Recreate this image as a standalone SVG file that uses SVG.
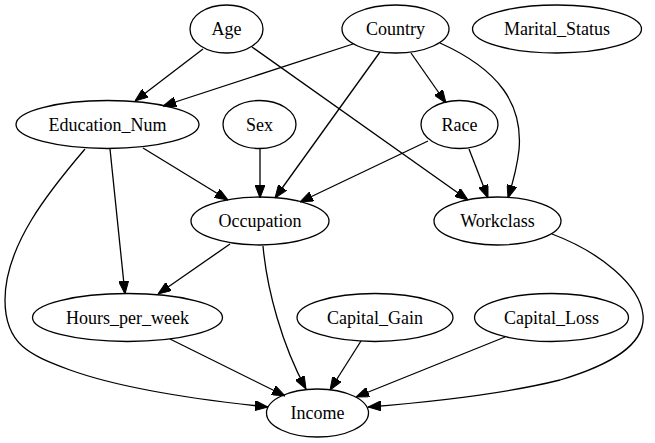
<svg xmlns="http://www.w3.org/2000/svg" width="655" height="443" viewBox="0 0 655 443">
<style>
ellipse{fill:none;stroke:#000;stroke-width:1.3}
#edges path{fill:none;stroke:#000;stroke-width:1.3;marker-end:url(#ah)}
</style>
<defs>
<marker id="ah" viewBox="0 0 13 10" refX="13" refY="5" markerWidth="13" markerHeight="10" markerUnits="userSpaceOnUse" orient="auto">
<path d="M0,0 L13,5 L0,10 z" fill="#000" stroke="#000" stroke-width="1"/>
</marker>
</defs>
<rect width="655" height="443" fill="#fff"/>
<g id="edges">
<path d="M203,49 L135,101"/>
<path d="M353,44 L163,106"/>
<path d="M252,47 L468,200"/>
<path d="M380,52 L275,198"/>
<path d="M411,53 L446,103"/>
<path d="M440,43 C500,70 523,105 519,150 C517,168 513,182 508,198"/>
<path d="M143,148 L228,200"/>
<path d="M110,149 L125,294"/>
<path d="M85,149 C50,190 5,245 5,300 C5,345 30,355 70,370 C120,388 200,400 268,407"/>
<path d="M260,148 L260,198"/>
<path d="M428,141 L300,202"/>
<path d="M469,149 L488,198"/>
<path d="M230,244 L158,294"/>
<path d="M263,246 C267,290 282,345 306,389"/>
<path d="M170,339 L285,396"/>
<path d="M361,341 L330,390"/>
<path d="M505,337 L356,397"/>
<path d="M552,234 C600,252 640,285 643,315 C646,345 610,365 560,380 C500,395 430,402 368,407"/>
</g>
<g id="Age"><ellipse cx="226.5" cy="29" rx="36.5" ry="24"/><text x="226.5" y="35" font-family="Liberation Serif" font-size="18" text-anchor="middle">Age</text></g>
<g id="Country"><ellipse cx="395.5" cy="29" rx="53.5" ry="24"/><text x="395.5" y="35" font-family="Liberation Serif" font-size="18" text-anchor="middle">Country</text></g>
<g id="Marital_Status"><ellipse cx="557" cy="29" rx="84.5" ry="24"/><text x="557" y="35" font-family="Liberation Serif" font-size="18" text-anchor="middle">Marital_Status</text></g>
<g id="Education_Num"><ellipse cx="107.5" cy="124.5" rx="91.5" ry="24"/><text x="107.5" y="130.5" font-family="Liberation Serif" font-size="18" text-anchor="middle">Education_Num</text></g>
<g id="Sex"><ellipse cx="259.5" cy="124.5" rx="36.5" ry="24"/><text x="259.5" y="130.5" font-family="Liberation Serif" font-size="18" text-anchor="middle">Sex</text></g>
<g id="Race"><ellipse cx="459.5" cy="124.5" rx="38.5" ry="24"/><text x="459.5" y="130.5" font-family="Liberation Serif" font-size="18" text-anchor="middle">Race</text></g>
<g id="Occupation"><ellipse cx="260" cy="221" rx="69" ry="24"/><text x="260" y="227" font-family="Liberation Serif" font-size="18" text-anchor="middle">Occupation</text></g>
<g id="Workclass"><ellipse cx="497.5" cy="221" rx="63.5" ry="24"/><text x="497.5" y="227" font-family="Liberation Serif" font-size="18" text-anchor="middle">Workclass</text></g>
<g id="Hours_per_week"><ellipse cx="127.5" cy="317.5" rx="95" ry="24"/><text x="127.5" y="323.5" font-family="Liberation Serif" font-size="18" text-anchor="middle">Hours_per_week</text></g>
<g id="Capital_Gain"><ellipse cx="375" cy="317.5" rx="78" ry="24"/><text x="375" y="323.5" font-family="Liberation Serif" font-size="18" text-anchor="middle">Capital_Gain</text></g>
<g id="Capital_Loss"><ellipse cx="551.5" cy="317.5" rx="77" ry="24"/><text x="551.5" y="323.5" font-family="Liberation Serif" font-size="18" text-anchor="middle">Capital_Loss</text></g>
<g id="Income"><ellipse cx="317.5" cy="413" rx="51" ry="24"/><text x="317.5" y="419" font-family="Liberation Serif" font-size="18" text-anchor="middle">Income</text></g>
</svg>
